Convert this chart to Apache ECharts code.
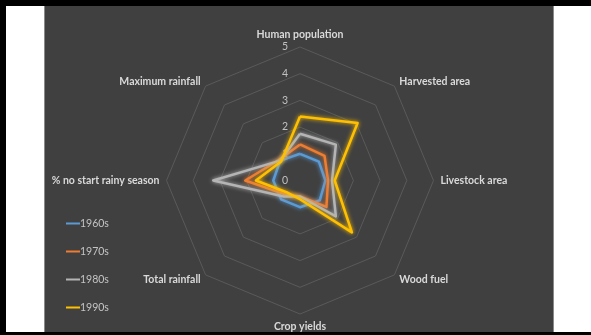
<!DOCTYPE html>
<html>
<head>
<meta charset="utf-8">
<script src="https://cdn.jsdelivr.net/npm/echarts@6/dist/echarts.min.js"></script>
<style>
  html, body { margin: 0; padding: 0; background: #fff; }
  .frame { position: relative; width: 591px; height: 335px; overflow: hidden; background: #fff; }
  .edge-top { position: absolute; left: 0; top: 0; width: 591px; height: 6px; background: #000; }
  .edge-left { position: absolute; left: 0; top: 0; width: 6px; height: 335px; background: #000; }
  .edge-bottom { position: absolute; left: 0; top: 332px; width: 591px; height: 3px; background: #000; }
  .panel { position: absolute; left: 44px; top: 6px; width: 508px; height: 326px; background: #404040;
           border-left: 1px solid #8a8a8a; border-right: 1px solid #8a8a8a; }
  #chart { position: absolute; left: 0; top: 0; width: 591px; height: 335px; }
</style>
</head>
<body>
<div class="frame">
  <div class="panel"></div>
  <div class="edge-top"></div>
  <div class="edge-left"></div>
  <div class="edge-bottom"></div>
  <div id="chart"></div>
</div>
<script>
// axes, clockwise from the top
const indicators = ['Human population', 'Harvested area', 'Livestock area', 'Wood fuel',
  'Crop yields', 'Total rainfall', '% no start rainy season', 'Maximum rainfall']
const decades = ['1960s', '1970s', '1980s', '1990s']
const values1960s = [1.0, 1.0, 0.95, 1.05, 1.0, 1.0, 1.0, 1.05]
const values1970s = [1.35, 1.3, 1.05, 1.4, 0.6, 0.75, 2.05, 1.1]
const values1980s = [1.75, 1.9, 1.2, 1.9, 0.6, 0.85, 3.25, 1.05]
const values1990s = [2.4, 3.05, 1.3, 2.75, 0.7, 0.65, 1.65, 1.0]
const colors = ['#5b9bd5', '#ed7d31', '#b4b4b4', '#ffc000']

// echarts lays radar axes out counter-clockwise, so flip the order after the first one
const order = [0, 7, 6, 5, 4, 3, 2, 1]
const reorder = arr => order.map(i => arr[i])

const chart = echarts.init(document.getElementById('chart'))

const allValues = [values1960s, values1970s, values1980s, values1990s]

const option = {
  backgroundColor: 'transparent',
  color: colors,
  legend: {
    orient: 'vertical',
    left: 61,
    top: 213,
    itemWidth: 14,
    itemHeight: 2,
    itemGap: 17,
    icon: 'rect',
    data: decades,
    textStyle: {
      color: '#c4c4c4',
      fontSize: 10.5,
      fontFamily: 'Lato',
      padding: [0, 0, 0, -5]
    }
  },
  radar: {
    center: [300, 180.5],
    radius: 133.5,
    startAngle: 90,
    splitNumber: 5,
    shape: 'polygon',
    axisName: {
      color: '#d9d9d9',
      fontSize: 10.5,
      fontWeight: 'bold',
      fontFamily: 'Lato'
    },
    nameGap: 7,
    axisLine: { show: false },
    axisTick: { show: false },
    axisLabel: { show: false },
    splitArea: { show: false },
    splitLine: {
      lineStyle: { color: '#5a5a5a', width: 1 }
    },
    indicator: reorder(indicators).map((name, i) => ({
      name: name,
      min: 0,
      max: 5,
      axisLabel: i === 0 ? {
        show: true,
        color: '#c0c0c0',
        fontSize: 10.5,
        fontFamily: 'Lato',
        margin: 12
      } : undefined
    }))
  },
  series: [{
    type: 'radar',
    symbol: 'none',
    data: decades.map((d, k) => ({
      name: d,
      value: reorder(allValues[k]),
      lineStyle: {
        color: colors[k],
        width: 2.5,
        shadowBlur: 4,
        shadowColor: colors[k]
      },
      itemStyle: { color: colors[k] }
    }))
  }]
}

chart.setOption(option)
</script>
</body>
</html>
